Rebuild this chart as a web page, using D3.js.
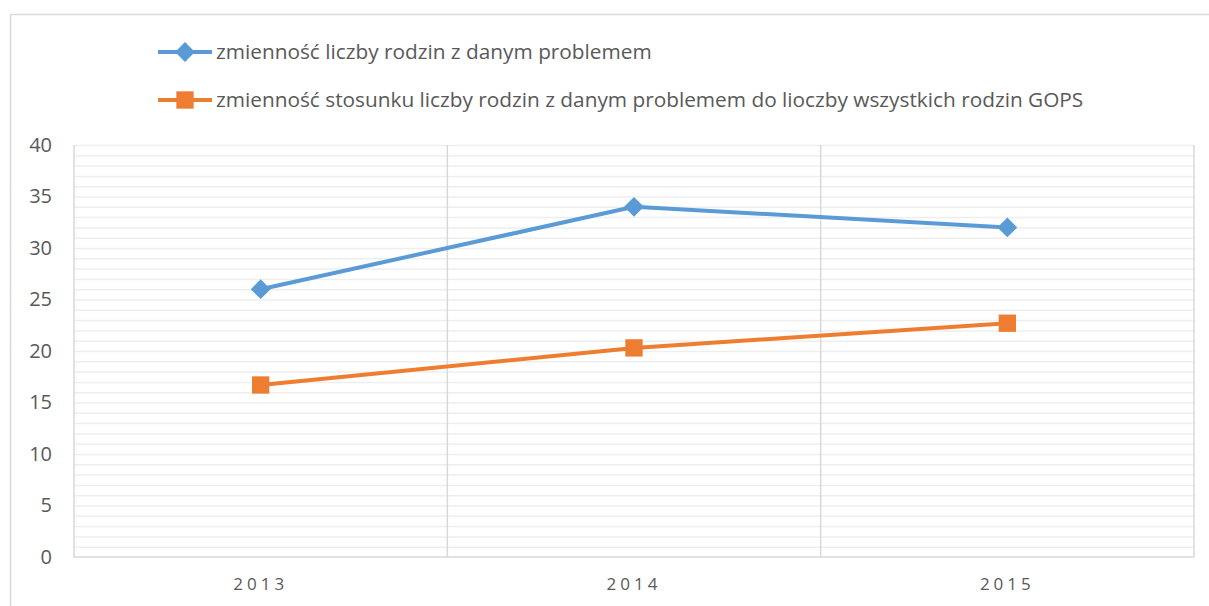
<!DOCTYPE html>
<html>
<head>
<meta charset="utf-8">
<script src="https://cdn.jsdelivr.net/npm/d3@7"></script>
<style>
  body { margin: 0; background: #fff; }
  text { font-family: "Open Sans", "Noto Sans", sans-serif; fill: #595959; }
</style>
</head>
<body>
<div id="chart"></div>
<script>
const years = ["2013", "2014", "2015"];
const familiesChange = [26, 34, 32];
const ratioChange = [16.7, 20.3, 22.7];
const seriesNames = [
  "zmienność liczby rodzin z danym problemem",
  "zmienność stosunku liczby rodzin z danym problemem do lioczby wszystkich rodzin GOPS"
];
const yTicks = [0, 5, 10, 15, 20, 25, 30, 35, 40];

const width = 1209, height = 606;
const svg = d3.select("#chart").append("svg")
  .attr("width", width)
  .attr("height", height);

// outer chart frame
svg.append("rect")
  .attr("x", 10.5).attr("y", 14.5)
  .attr("width", 1220).attr("height", 620)
  .attr("fill", "none").attr("stroke", "#d9d9d9").attr("stroke-width", 1.5);

const plotL = 74, plotR = 1194, plotT = 145, plotB = 557;

const x = d3.scaleBand().domain(years).range([plotL, plotR]);
const y = d3.scaleLinear().domain([0, 40]).range([plotB, plotT]);

// minor gridlines every 1 unit
svg.append("g")
  .selectAll("line")
  .data(d3.range(1, 41))
  .enter().append("line")
  .attr("x1", plotL).attr("x2", plotR)
  .attr("y1", d => y(d) + 0.5).attr("y2", d => y(d) + 0.5)
  .attr("stroke", "#eeeeee").attr("stroke-width", 1.5);

// vertical category separators
svg.append("g")
  .selectAll("line")
  .data(years.slice(1))
  .enter().append("line")
  .attr("x1", d => x(d)).attr("x2", d => x(d))
  .attr("y1", plotT).attr("y2", plotB)
  .attr("stroke", "#d9d9d9").attr("stroke-width", 1.5);

// plot frame: left, right, bottom
svg.append("path")
  .attr("d", `M${plotL},${plotT}V${plotB}H${plotR}V${plotT}`)
  .attr("fill", "none").attr("stroke", "#d9d9d9").attr("stroke-width", 1.5);

// y axis
const yAxis = svg.append("g")
  .attr("transform", `translate(${plotL - 22},0)`)
  .call(d3.axisLeft(y).tickValues(yTicks).tickSize(0).tickPadding(0));
yAxis.select(".domain").remove();
yAxis.selectAll("text")
  .style("font-size", "20px")
  .style("fill", "#595959");

// x axis
const xAxis = svg.append("g")
  .attr("transform", `translate(0,${plotB + 21})`)
  .call(d3.axisBottom(x).tickSize(0).tickPadding(0));
xAxis.select(".domain").remove();
xAxis.selectAll("text")
  .style("font-size", "17px")
  .style("letter-spacing", "4px")
  .style("fill", "#595959");

const cx = d => x(d) + x.bandwidth() / 2;

const series = [
  { name: seriesNames[0], values: familiesChange, color: "#5b9bd5", symbol: d3.symbolDiamond2, size: 250 },
  { name: seriesNames[1], values: ratioChange, color: "#ed7d31", symbol: d3.symbolSquare, size: 300 }
];

const line = d3.line()
  .x(d => cx(d.year))
  .y(d => y(d.v));

series.forEach(s => {
  const pts = years.map((yr, i) => ({ year: yr, v: s.values[i] }));
  svg.append("path")
    .datum(pts)
    .attr("d", line)
    .attr("fill", "none")
    .attr("stroke", s.color)
    .attr("stroke-width", 4)
    .attr("stroke-linejoin", "round");
  svg.append("g")
    .selectAll("path")
    .data(pts)
    .enter().append("path")
    .attr("transform", d => `translate(${cx(d.year)},${y(d.v)})`)
    .attr("d", d3.symbol().type(s.symbol).size(s.size))
    .attr("fill", s.color);
});

// legend
const legend = svg.append("g").attr("transform", "translate(158,52)");
series.forEach((s, i) => {
  const g = legend.append("g").attr("transform", `translate(0,${i * 48})`);
  g.append("line")
    .attr("x1", 0).attr("x2", 54)
    .attr("stroke", s.color).attr("stroke-width", 4);
  g.append("path")
    .attr("transform", "translate(27,0)")
    .attr("d", d3.symbol().type(s.symbol).size(s.size))
    .attr("fill", s.color);
  g.append("text")
    .attr("x", 58)
    .attr("dy", "0.35em")
    .style("font-size", "20.8px")
    .text(s.name);
});
</script>
</body>
</html>
